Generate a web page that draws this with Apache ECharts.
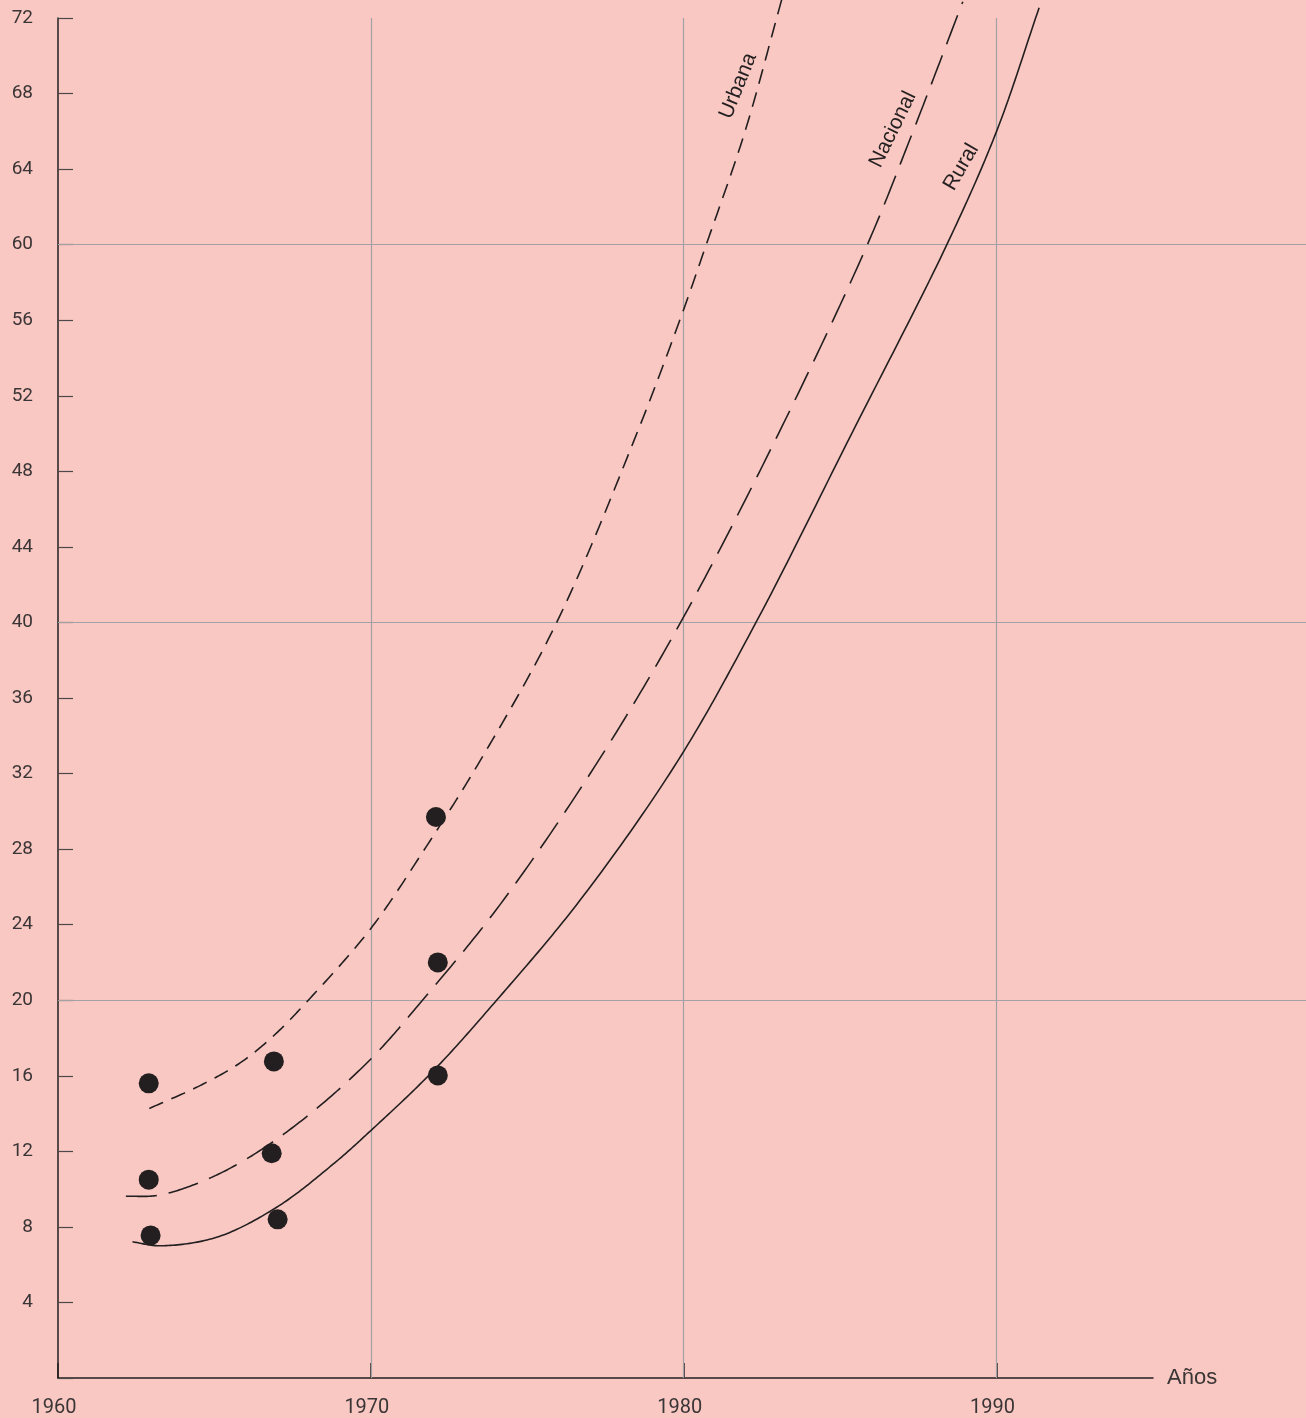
<!DOCTYPE html>
<html>
<head>
<meta charset="utf-8">
<title>Tendencia por área</title>
<script src="https://cdn.jsdelivr.net/npm/echarts@6/dist/echarts.min.js"></script>
<style>
  html, body { margin: 0; padding: 0; background: #F9C8C2; }
  #chart { width: 1306px; height: 1418px; }
</style>
</head>
<body>
<div id="chart"></div>
<script>
// Axis ticks
const yearTicks = [1960, 1970, 1980, 1990];
const valueGridLines = [20, 40, 60];
const yearGridLines = [1970, 1980, 1990];

// Observed values (points)
const obsUrbanaYears = [1962.9, 1966.9, 1972.08];
const obsUrbanaValues = [15.6, 16.76, 29.7];
const obsNacionalYears = [1962.9, 1966.83, 1972.14];
const obsNacionalValues = [10.5, 11.9, 22.0];
const obsRuralYears = [1962.96, 1967.02, 1972.14];
const obsRuralValues = [7.55, 8.4, 16.02];

// Fitted trend curves
const urbanaYears = [1962.92, 1964.54, 1965.82, 1966.88, 1968.0, 1970.0, 1971.68, 1973.49, 1975.94, 1978.5, 1979.94, 1980.72, 1981.96, 1983.13];
const urbanaValues = [14.27, 15.48, 16.68, 18.1, 20.0, 23.8, 27.9, 32.67, 40.0, 50.0, 56.3, 60.0, 66.0, 72.96];
const nacionalYears = [1962.17, 1963.2, 1964.54, 1966.03, 1967.95, 1970.0, 1971.65, 1974.13, 1977.27, 1979.9, 1983.03, 1985.87, 1987.33, 1988.92];
const nacionalValues = [9.62, 9.67, 10.36, 11.6, 13.84, 16.89, 20.0, 25.06, 32.67, 40.0, 50.0, 60.0, 66.0, 72.86];
const ruralYears = [1962.38, 1963.26, 1965.07, 1966.99, 1968.8, 1970.0, 1972.0, 1974.02, 1976.69, 1979.81, 1982.31, 1985.37, 1988.41, 1990.0, 1991.36];
const ruralValues = [7.21, 7.0, 7.45, 9.04, 11.33, 13.1, 16.27, 20.0, 25.3, 32.67, 40.0, 50.0, 60.0, 66.0, 72.54];

// Curve captions: name, anchor year, anchor value, angle (degrees)
const captionNames = ['Urbana', 'Nacional', 'Rural'];
const captionYears = [1981.74, 1986.69, 1988.87];
const captionValues = [68.4, 66.1, 64.1];
const captionAngles = [68, 64, 60];

const INK = '#231f20';
const TEXT = '#3a3536';
const GRID = '#a2a1a6';

const zip = (xs, ys) => xs.map((x, i) => [x, ys[i]]);

const chart = echarts.init(document.getElementById('chart'), null, { renderer: 'canvas' });

// Centripetal Catmull-Rom through pixel points, sampled into a polyline
function splinePoints(pts, steps) {
  const out = [];
  const n = pts.length;
  const P = i => pts[Math.max(0, Math.min(n - 1, i))];
  const dist = (a, b) => Math.pow(Math.hypot(b[0] - a[0], b[1] - a[1]), 0.5) || 1e-4;
  for (let i = 0; i < n - 1; i++) {
    let p0 = P(i - 1), p1 = P(i), p2 = P(i + 1), p3 = P(i + 2);
    if (i === 0) p0 = [2 * p1[0] - p2[0], 2 * p1[1] - p2[1]];
    if (i === n - 2) p3 = [2 * p2[0] - p1[0], 2 * p2[1] - p1[1]];
    const t0 = 0, t1 = t0 + dist(p0, p1), t2 = t1 + dist(p1, p2), t3 = t2 + dist(p2, p3);
    for (let s = (i === 0 ? 0 : 1); s <= steps; s++) {
      const t = t1 + (t2 - t1) * s / steps;
      const lerp = (a, b, ta, tb) => [
        ((tb - t) * a[0] + (t - ta) * b[0]) / (tb - ta),
        ((tb - t) * a[1] + (t - ta) * b[1]) / (tb - ta)
      ];
      const A1 = lerp(p0, p1, t0, t1), A2 = lerp(p1, p2, t1, t2), A3 = lerp(p2, p3, t2, t3);
      const B1 = lerp(A1, A2, t0, t2), B2 = lerp(A2, A3, t1, t3);
      out.push(lerp(B1, B2, t1, t2));
    }
  }
  return out;
}

const curve = (name, xs, ys, dash) => ({
  name, type: 'custom', xAxisIndex: 0, yAxisIndex: 0,
  data: zip(xs, ys), encode: { x: 0, y: 1 }, clip: false, silent: true, z: 5,
  renderItem: (params, api) => {
    if (params.dataIndex !== 0) return null;
    const pts = xs.map((x, i) => api.coord([x, ys[i]]));
    return {
      type: 'polyline',
      shape: { points: splinePoints(pts, 24) },
      style: { stroke: INK, lineWidth: 1.6, fill: null, lineDash: dash, lineJoin: 'round' }
    };
  }
});

const dots = (name, xs, ys) => ({
  name, type: 'scatter', xAxisIndex: 0, yAxisIndex: 0,
  data: zip(xs, ys), symbol: 'circle', symbolSize: 20, silent: true, z: 6,
  itemStyle: { color: INK, opacity: 1 }
});

chart.setOption({
  backgroundColor: '#F9C8C2',
  animation: false,
  grid: [
    { left: 58, right: 153, top: 18, bottom: 40 },
    { left: 58, right: 0, top: 18, bottom: 40 }
  ],
  xAxis: [
    {
      type: 'value', gridIndex: 0, min: 1960, max: 1995, interval: 10,
      name: 'Años', nameLocation: 'end', nameGap: 14,
      nameTextStyle: { fontFamily: 'Liberation Sans', fontSize: 22, color: TEXT, verticalAlign: 'middle' },
      axisLine: { show: true, onZero: false, lineStyle: { color: INK, width: 1.5 } },
      axisTick: { show: true, inside: true, length: 15, customValues: yearTicks, lineStyle: { color: INK, width: 1.5 } },
      axisLabel: {
        customValues: yearTicks, margin: 20, padding: [0, 8, 0, 0],
        fontFamily: 'Roboto', fontSize: 20, color: TEXT,
        formatter: v => String(v)
      },
      splitLine: { show: false }
    },
    {
      type: 'value', gridIndex: 1, min: 1960, max: 2000, show: false
    }
  ],
  yAxis: [
    {
      type: 'value', gridIndex: 0, min: 0, max: 72, interval: 4,
      axisLine: { show: true, onZero: false, lineStyle: { color: INK, width: 1.5 } },
      axisTick: { show: true, inside: true, length: 15, lineStyle: { color: '#4d4748', width: 1.2 } },
      axisLabel: {
        margin: 25, fontFamily: 'Roboto', fontSize: 19, color: TEXT,
        formatter: v => (v === 0 ? '' : String(v))
      },
      splitLine: { show: false }
    },
    {
      type: 'value', gridIndex: 1, min: 0, max: 72, show: false
    }
  ],
  series: [
    {
      name: 'horizontales', type: 'line', xAxisIndex: 1, yAxisIndex: 1, data: [],
      silent: true, z: 1,
      markLine: {
        silent: true, symbol: 'none', animation: false,
        label: { show: false },
        lineStyle: { color: GRID, width: 1.2, type: 'solid' },
        data: valueGridLines.map(v => ({ yAxis: v }))
      }
    },
    {
      name: 'verticales', type: 'line', xAxisIndex: 0, yAxisIndex: 0, data: [],
      silent: true, z: 1,
      markLine: {
        silent: true, symbol: 'none', animation: false,
        label: { show: false },
        lineStyle: { color: GRID, width: 1.2, type: 'solid' },
        data: yearGridLines.map(v => ({ xAxis: v }))
      }
    },
    curve('Urbana', urbanaYears, urbanaValues, [15, 9]),
    curve('Nacional', nacionalYears, nacionalValues, [31, 12]),
    curve('Rural', ruralYears, ruralValues, null),
    dots('Urbana datos', obsUrbanaYears, obsUrbanaValues),
    dots('Nacional datos', obsNacionalYears, obsNacionalValues),
    dots('Rural datos', obsRuralYears, obsRuralValues)
  ]
});

// Rotated captions placed along each curve
const captions = captionNames.map((name, i) => {
  const p = chart.convertToPixel({ xAxisIndex: 0, yAxisIndex: 0 }, [captionYears[i], captionValues[i]]);
  return {
    type: 'text', x: p[0], y: p[1], rotation: captionAngles[i] * Math.PI / 180,
    silent: true, z: 10,
    style: {
      text: name, fill: INK, fontFamily: 'Liberation Sans', fontSize: 21,
      align: 'center', verticalAlign: 'middle'
    }
  };
});
chart.setOption({ graphic: captions });
</script>
</body>
</html>
